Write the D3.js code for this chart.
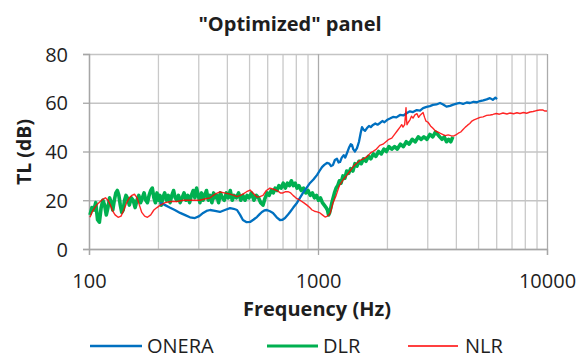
<!DOCTYPE html>
<html><head><meta charset="utf-8">
<script src="https://cdn.jsdelivr.net/npm/d3@7"></script>
<style>
html,body{margin:0;padding:0;background:#fff;}
text{font-family:"Open Sans",sans-serif;fill:#1e1e1e;}
</style></head>
<body><svg id="c" width="585" height="359"></svg>
<script>
const title = '"Optimized" panel';
const xLabel = 'Frequency (Hz)';
const yLabel = 'TL (dB)';
const seriesNames = ['ONERA','DLR','NLR'];
const seriesColors = ['#0070C0','#00B050','#FF0000'];
const yTicks = [0,20,40,60,80];
const xTicks = [100,1000,10000];
const gridFreqs = [200,300,400,500,600,700,800,900,2000,3000,4000,5000,6000,7000,8000,9000];

// [frequency Hz, TL dB]
const onera = [[204,18.9],[210,18.5],[215,18],[225,17],[237,16],[250,14.8],[263,13.9],[276,13],[290,12.7],[303,13.5],[315,14.8],[326,15.6],[338,16],[355,15.6],[373,15.2],[392,16],[413,16.8],[428,16.5],[443,16],[457,14],[470,11.9],[488,11],[505,11.1],[522,12],[541,13.1],[555,14.2],[569,15.2],[583,15.8],[598,16],[617,15.5],[636,14.8],[660,13],[682,11.9],[700,12],[718,12.7],[735,13.8],[755,15.2],[780,17],[809,18.9],[834,21],[860,23],[890,25],[923,27.1],[955,28.5],[991,30.4],[1015,32],[1041,33.6],[1065,34.5],[1094,35.3],[1120,35],[1140,34],[1163,34.5],[1185,36.5],[1210,37],[1230,35.5],[1248,35.7],[1270,37.5],[1295,38.5],[1315,37.5],[1339,39.4],[1365,41.5],[1390,43],[1407,42.7],[1425,41],[1450,40],[1480,41.4],[1510,44],[1535,47.5],[1556,50],[1580,49],[1605,48.5],[1637,49.6],[1670,50.5],[1700,50],[1738,50.9],[1780,51.5],[1820,51],[1866,51.7],[1910,52.5],[1950,52],[2000,52.9],[2060,53.5],[2126,54.2],[2200,54],[2281,55],[2360,54.8],[2447,55.8],[2520,56.5],[2600,56.2],[2700,57],[2790,56.8],[2876,57.8],[2980,58.3],[3080,58.6],[3177,59.1],[3290,59.3],[3411,59.9],[3520,59.3],[3640,58.4],[3770,58.7],[3900,59.2],[4030,59.6],[4168,59.9],[4300,59.5],[4460,60.1],[4610,59.9],[4780,60.4],[4940,60.2],[5096,60.7],[5270,61],[5450,61.4],[5633,61.9],[5800,61.2],[5950,62.1],[6050,61.5]];

const dlr = [[101,14],[103,17],[105,16],[107,19],[109,12],[111,11],[113,17],[115,20],[117,18],[119,14],[121,17],[123,21],[125,19],[127,16],[129,20],[131,23],[133,24],[135,22],[137,18],[139,15],[141,16],[143,20],[145,22],[147,21],[150,18],[153,21],[156,20],[159,17],[162,20],[165,22],[168,19],[171,21],[174,23],[177,20],[180,19],[183,22],[186,24],[189,25],[192,21],[195,19],[198,23],[201,20],[204,22],[207,18],[210,21],[214,23],[218,20],[222,22],[226,19],[230,22],[234,24],[238,21],[242,20],[246,22],[250,19],[255,21],[260,23],[265,20],[270,22],[275,19],[280,22],[285,24],[290,21],[295,25],[300,22],[305,19],[310,23],[315,20],[320,22],[326,24],[332,20],[338,22],[344,19],[350,23],[356,21],[362,22],[368,19],[375,23],[382,21],[390,20],[398,23],[406,21],[414,24],[422,20],[430,22],[440,21],[450,23],[460,20],[470,22],[480,20],[490,22],[500,21],[512,23],[525,20],[538,22],[550,21],[562,19],[575,18],[588,21],[600,23],[612,22],[625,24],[638,23],[650,25],[662,24],[675,26],[690,25],[705,27],[720,25],[735,27],[750,26],[765,28],[780,26],[795,27],[810,25],[825,26],[845,24],[865,25],[885,23],[905,24],[925,22],[945,23],[965,21],[985,22],[1005,20],[1025,21],[1045,19],[1065,18],[1085,17],[1100,16],[1112,14],[1125,15],[1138,17],[1150,19],[1165,21],[1180,23],[1200,25],[1220,26],[1240,28],[1260,27],[1285,30],[1310,29],[1335,32],[1360,31],[1390,33],[1420,32],[1450,35],[1480,34],[1510,36],[1545,35],[1580,37],[1620,36],[1660,38],[1700,37],[1745,39],[1790,38],[1840,40],[1890,39],[1940,41],[1990,40],[2040,42],[2100,41],[2160,42],[2220,41],[2290,43],[2360,42],[2430,44],[2500,43],[2580,45],[2660,44],[2740,46],[2820,45],[2900,46],[2990,45],[3080,47],[3170,46],[3260,48],[3330,47],[3400,46],[3480,45],[3560,46],[3640,44],[3720,45],[3800,44],[3880,46]];

const nlr = [[101,13],[103,15],[106,17],[109,18.5],[112,19.5],[115,20.5],[118,21],[121,20],[124,18],[127,15.5],[130,14],[134,13],[138,13.5],[142,16],[146,19],[150,21],[154,22],[158,22.5],[162,21],[166,18],[170,15],[175,13.5],[180,13],[186,14],[192,16],[198,17],[205,18],[215,19],[228,19.5],[242,19.5],[258,20],[275,20],[290,20],[305,20],[320,20.5],[338,21],[355,22.5],[373,23.4],[390,23],[413,22.5],[430,22],[443,21.5],[458,22],[470,22.5],[488,23.5],[505,24.2],[520,23],[541,21.3],[558,21.5],[575,22],[595,24],[617,25],[640,24.5],[662,24],[685,23],[703,23],[722,23.5],[740,23.5],[760,23],[778,22],[800,21],[834,20],[865,19],[895,18],[920,17],[942,16],[965,15.5],[991,15.2],[1020,14.8],[1045,14],[1074,13.1],[1100,13.5],[1128,14.5],[1145,16.5],[1163,18.9],[1200,22],[1240,26],[1286,28.3],[1330,30],[1380,32],[1430,34],[1480,35.3],[1530,36.5],[1580,37],[1640,38],[1700,39.5],[1738,40],[1800,41],[1860,42.5],[1922,43],[1980,44],[2040,45],[2100,45.5],[2160,47],[2220,48.5],[2281,50],[2320,51],[2350,50],[2390,51],[2410,55],[2423,58],[2435,53],[2447,51],[2480,52],[2521,53],[2560,54.5],[2600,53.7],[2650,55],[2705,55.5],[2750,54],[2800,55],[2876,56],[2920,54],[2960,52.5],[3023,52],[3100,50.5],[3177,49.5],[3250,48.5],[3330,48],[3411,47.5],[3500,47],[3600,46.5],[3700,46.8],[3800,46.5],[3900,46.3],[4000,46.8],[4100,47.5],[4200,48],[4300,49],[4400,50],[4500,50.8],[4600,51.5],[4700,52.5],[4800,53],[4950,53.5],[5100,54],[5260,54.2],[5450,54.8],[5650,55],[5808,55.2],[6000,55.6],[6200,55.3],[6427,55.8],[6685,55.4],[6900,55.8],[7150,55.5],[7390,55.9],[7620,55.6],[7900,56],[8150,55.7],[8430,56.2],[8700,56.4],[9000,56.8],[9300,57],[9610,57],[9800,56.6],[10000,56.6]];

const svg = d3.select('#c');
const L=89, R=547, T=54, B=249;
const x = d3.scaleLog().domain([100,10000]).range([L,R]);
const y = d3.scaleLinear().domain([0,80]).range([B,T]);

// minor vertical gridlines
const gv = svg.append('g').attr('transform',`translate(0,${B})`)
  .call(d3.axisBottom(x).tickValues(gridFreqs).tickSize(-(B-T)).tickFormat(''));
gv.select('.domain').remove();
gv.selectAll('line').attr('stroke','#c9c9c9').attr('stroke-width',1.3);

// horizontal gridlines
const gh = svg.append('g').attr('transform',`translate(${L},0)`)
  .call(d3.axisLeft(y).tickValues(yTicks).tickSize(-(R-L)).tickFormat(''));
gh.select('.domain').remove();
gh.selectAll('line').attr('stroke','#c4c4c4').attr('stroke-width',1.3);

// major vertical lines
const gm = svg.append('g').attr('transform',`translate(0,${B})`)
  .call(d3.axisBottom(x).tickValues(xTicks).tickSize(-(B-T)).tickFormat(''));
gm.select('.domain').remove();
gm.selectAll('line').attr('stroke','#ababab').attr('stroke-width',1.3);

// x axis
const xa = svg.append('g').attr('transform',`translate(0,${B})`)
  .call(d3.axisBottom(x).tickValues(xTicks).tickSize(6).tickFormat(d3.format('d')));
xa.select('.domain').attr('stroke','#a6a6a6').attr('stroke-width',1.3);
xa.selectAll('line').attr('stroke','#a6a6a6').attr('stroke-width',1.3);
xa.selectAll('text').attr('y',39).attr('dy',0).style('font-size','20px').style('font-family','"Open Sans",sans-serif').attr('fill','#1e1e1e');

// y axis
const ya = svg.append('g').attr('transform',`translate(${L},0)`)
  .call(d3.axisLeft(y).tickValues(yTicks).tickSize(6));
ya.select('.domain').attr('stroke','#a6a6a6').attr('stroke-width',1.3);
ya.selectAll('line').attr('stroke','#a6a6a6').attr('stroke-width',1.3);
ya.selectAll('text').attr('x',-21).attr('dy','0.36em').style('font-size','20px').style('font-family','"Open Sans",sans-serif').attr('fill','#1e1e1e');

// lines
const line = d3.line().x(d=>x(d[0])).y(d=>y(d[1]));
const series = [
  {data:dlr, color:seriesColors[1], w:3.6, op:1},
  {data:onera, color:seriesColors[0], w:2.3, op:1},
  {data:nlr, color:seriesColors[2], w:1.4, op:0.85}
];
series.forEach(s=>{
  svg.append('path').datum(s.data).attr('d',line)
    .attr('fill','none').attr('stroke',s.color).attr('stroke-width',s.w)
    .attr('stroke-opacity',s.op).attr('stroke-linejoin','round');
});

// titles
svg.append('text').attr('x',290).attr('y',31).attr('text-anchor','middle')
  .style('font-size','20px').style('font-weight','bold').text(title);
svg.append('text').attr('x',317).attr('y',316).attr('text-anchor','middle')
  .style('font-size','20px').style('font-weight','bold').text(xLabel);
svg.append('text').attr('transform','translate(31,152) rotate(-90)').attr('text-anchor','middle')
  .style('font-size','19.5px').style('font-weight','bold').text(yLabel);

// legend
const legX = [[90,142,147],[267,318,323],[408,458,465]];
const legW = [2.6,3.2,1.6];
const legY = 346;
seriesNames.forEach((n,i)=>{
  svg.append('line').attr('x1',legX[i][0]).attr('x2',legX[i][1]).attr('y1',legY).attr('y2',legY)
    .attr('stroke',seriesColors[i]).attr('stroke-width',legW[i]);
  svg.append('text').attr('x',legX[i][2]).attr('y',353).style('font-size','20px').text(n);
});
</script></body></html>
